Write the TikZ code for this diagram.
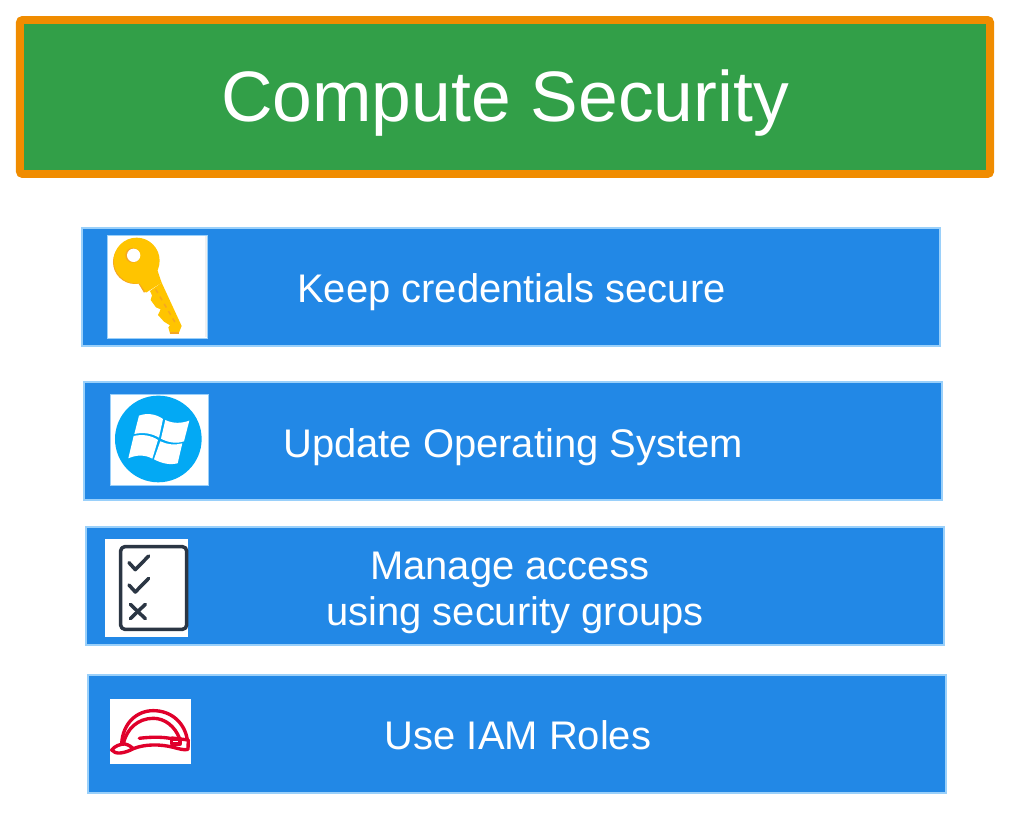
\documentclass[tikz,border=0pt]{standalone}
\usepackage{fontspec}
\setmainfont{Liberation Sans}
\usepackage{xcolor}
\definecolor{titlegreen}{HTML}{329F48}
\definecolor{titleorange}{HTML}{F08C00}
\definecolor{barblue}{HTML}{2288E6}
\definecolor{barline}{HTML}{9AD0FA}
\definecolor{keyyellow}{HTML}{FFC400}
\definecolor{keyshade}{HTML}{F5A623}
\definecolor{winblue}{HTML}{03A9F4}
\definecolor{listdark}{HTML}{2B3644}
\definecolor{hatred}{HTML}{E0002B}

\begin{document}
\begin{tikzpicture}[
    x=0.025cm, y=-0.025cm,
    titlebox/.style={rectangle, rounded corners=2pt, draw=titleorange, line width=5.6pt, fill=titlegreen, minimum width=24.25cm, minimum height=3.85cm},
    bar/.style={rectangle, draw=barline, line width=1.4pt, fill=barblue, minimum width=21.45cm, minimum height=2.95cm},
    bartext/.style={text=white, align=center, font=\fontsize{28.4}{32.7}\selectfont},
    iconbg/.style={rectangle, fill=white, draw=barline, line width=0.4pt, inner sep=0pt},
    listline/.style={draw=listdark, line width=2.5pt, line cap=round, line join=round},
    hatline/.style={draw=hatred, line width=2.4pt, line cap=round, line join=round}
]
    \useasboundingbox (0,0) rectangle (1009,814);

    \node[titlebox] (title) at (505,97) {};
    \node[text=white, font=\fontsize{50.8}{60}\selectfont] (titletext) at (505,103) {Compute Security};

    \node[bar] (keybar) at (511,287) {};
    \node[bar] (osbar) at (513,441) {};
    \node[bar] (accessbar) at (515,586) {};
    \node[bar] (iambar) at (517,734) {};

    \node[bartext] (keytext) at (511.5,292) {Keep credentials secure};
    \node[bartext] (ostext) at (513,447) {Update Operating System};
    \node[bartext] (accesstext) at (515,593) {Manage access\hspace{0.25cm}\mbox{}\\using security groups};
    \node[bartext] (iamtext) at (518,735) {Use IAM Roles};

    % key icon
    \node[iconbg, minimum width=2.5cm, minimum height=2.575cm] (keyicon) at (157,286.5) {};
    \fill[gray!12] (204.5,236) rectangle (206.5,337);
    \begin{scope}[shift={(70,220)}, scale=0.3333]
        \fill[keyshade] (195,126) circle (66);
        \fill[keyshade] (205,190) -- (222,218) -- (262,190) -- cycle;
        \fill[keyyellow] (200,122) circle (69);
        \fill[keyyellow] (262,150) -- (275,188) -- (228,218) -- (205,185) -- cycle;
        \fill[keyyellow] (240,213) -- (275,188) -- (335,318) -- (326,340) -- (300,340) -- (295,322) -- (300,316) -- (282,305) -- (264,285) -- (272,268) -- (258,262) -- (242,240) -- (246,226) -- cycle;
        \fill[keyshade] (300,336) -- (326,336) -- (326,342) -- (300,342) -- cycle;
        \draw[keyshade, line width=1pt, dashed] (257,208) -- (318,312);
        \fill[keyshade] (188,106) circle (22);
        \fill[white] (191,106) circle (20);
    \end{scope}

    % windows icon
    \node[iconbg, minimum width=2.45cm, minimum height=2.275cm] (osicon) at (159,439.5) {};
    \begin{scope}[shift={(70,220)}, scale=0.3333]
        \fill[winblue] (265,657) circle (130);
        \fill[white] (207,587) .. controls (232,578) and (258,582) .. (279,597) -- (267,653) .. controls (245,640) and (220,636) .. (193,642) -- cycle;
        \fill[white] (286,600) .. controls (310,612) and (335,610) .. (358,602) -- (342,664) .. controls (320,672) and (295,668) .. (273,656) -- cycle;
        \fill[white] (191,648) .. controls (218,642) and (243,646) .. (264,660) -- (247,716) .. controls (225,704) and (200,704) .. (175,715) -- cycle;
        \fill[white] (271,664) .. controls (292,674) and (315,676) .. (337,670) -- (323,730) .. controls (298,736) and (275,730) .. (252,718) -- cycle;
    \end{scope}

    % checklist icon
    \node[iconbg, draw=none, minimum width=2.075cm, minimum height=2.45cm] (accessicon) at (146.5,588) {};
    \begin{scope}[shift={(70,520)}, scale=0.3333]
        \draw[listline, rounded corners=3pt] (152,80) rectangle (350,328);
        \draw[listline] (177,128) -- (196,149) -- (236,108);
        \draw[listline] (177,195) -- (196,216) -- (236,175);
        \draw[listline] (181,253) -- (226,296);
        \draw[listline] (226,253) -- (181,296);
    \end{scope}

    % helmet icon
    \node[iconbg, draw=none, minimum width=2.0cm, minimum height=1.625cm] (iamicon) at (150.5,731.5) {};
    \begin{scope}[shift={(70,520)}, scale=0.3333]
        \draw[hatline] (155,672) .. controls (158,610) and (200,572) .. (250,572) .. controls (305,572) and (345,610) .. (352,660);
        \draw[hatline] (160,672) .. controls (170,625) and (205,595) .. (250,595) .. controls (285,595) and (315,620) .. (328,654);
        \draw[hatline] (125,690) .. controls (135,678) and (150,672) .. (165,672) .. controls (178,675) and (185,682) .. (190,686) .. controls (165,700) and (135,705) .. (125,690) -- cycle;
        \draw[hatline] (190,686) .. controls (225,672) and (270,672) .. (310,682) .. controls (325,686) and (345,692) .. (354,688) -- (355,660) -- (305,654);
        \draw[hatline] (208,655) .. controls (240,651) and (275,650) .. (305,656);
        \draw[hatline] (305,657) rectangle (330,672);
    \end{scope}
\end{tikzpicture}
\end{document}
